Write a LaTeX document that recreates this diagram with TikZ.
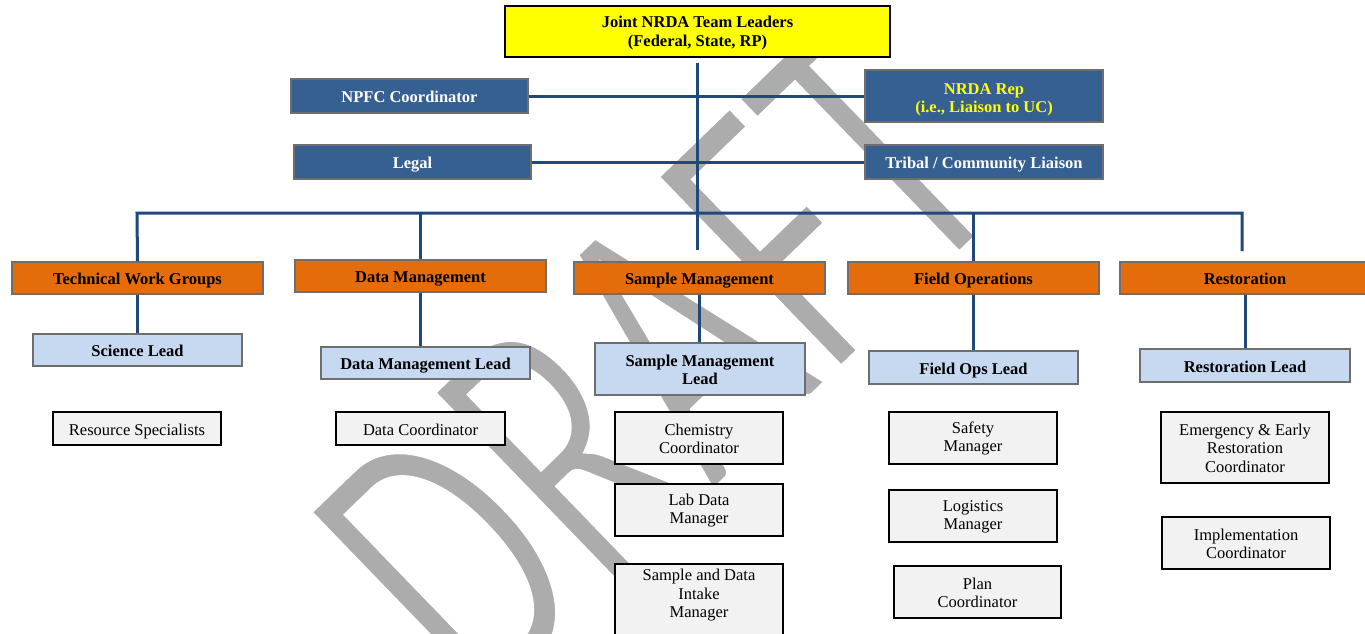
\documentclass[tikz,border=0pt]{standalone}
\usepackage{fontspec}
\setmainfont{Liberation Serif}
\newfontfamily\wmfont{Carlito}
\usepackage{graphicx}
\definecolor{topyellow}{RGB}{255,255,0}
\definecolor{dkblue}{RGB}{54,96,146}
\definecolor{orng}{RGB}{228,108,10}
\definecolor{ltblue}{RGB}{198,217,241}
\definecolor{ltgrey}{RGB}{242,242,242}
\definecolor{linecol}{RGB}{31,73,125}
\definecolor{bordgrey}{RGB}{110,110,110}
\definecolor{wm}{RGB}{172,172,172}
\newcommand\uppad[1]{\rule{0pt}{#1pt}}
\begin{document}
\begin{tikzpicture}[x=1pt,y=-1pt,
  base/.style={rectangle, align=center, inner sep=0pt, font=\fontsize{16.5}{18.5}\selectfont},
  oneline/.style={text height=13pt, text depth=0pt},
  topbox/.style={base, fill=topyellow, draw=black, line width=1.6pt, font=\fontsize{16.5}{18.5}\selectfont\bfseries},
  staffbox/.style={base, fill=dkblue, draw=bordgrey, line width=1.3pt, text=white, font=\fontsize{16.5}{18.5}\selectfont\bfseries},
  secbox/.style={base, oneline, fill=orng, draw=bordgrey, line width=1.3pt, font=\fontsize{16.5}{18.5}\selectfont\bfseries},
  leadbox/.style={base, fill=ltblue, draw=bordgrey, line width=1.3pt, font=\fontsize{16.5}{18.5}\selectfont\bfseries},
  rolebox/.style={base, fill=ltgrey, draw=black, line width=1.6pt},
  conn/.style={draw=linecol, line width=3pt}
]
\useasboundingbox (0,0) rectangle (1365,633);
\clip (0,0) rectangle (1365,633);
\fill[white] (0,0) rectangle (1365,633);

% watermark (thin white outline narrows the glyph strokes)
\node[rotate=44, anchor=base west, inner sep=0pt, text=wm,
      font=\wmfont\fontsize{278}{278}\selectfont] (wmark) at (481,717)
  {\special{pdf:literal direct 1 1 1 RG 5 w 2 Tr}\scalebox{1}[1.5]{DRAFT}\special{pdf:literal direct 0 Tr}};

% connector end points
\coordinate (mainTop) at (697,63);
\coordinate (mainBot) at (697,250);
\coordinate (busL) at (137,213);
\coordinate (busR) at (1242,213);
\coordinate (restEnd) at (1242,251);

% top
\node[topbox, minimum width=385pt, minimum height=51pt] (top) at (697.5,31.5) {\uppad{15}Joint NRDA Team Leaders\\(Federal, State, RP)};

% staff
\node[staffbox, oneline, minimum width=237pt, minimum height=34pt] (npfc) at (409.5,96) {NPFC Coordinator};
\node[staffbox, minimum width=238pt, minimum height=52pt, text=topyellow] (nrda) at (984,96) {\uppad{18}NRDA Rep\\(i.e., Liaison to UC)};
\node[staffbox, oneline, minimum width=237pt, minimum height=34pt] (legal) at (412.5,162) {Legal};
\node[staffbox, oneline, minimum width=238pt, minimum height=34pt] (tribal) at (984,162) {Tribal / Community Liaison};

% sections
\node[secbox, minimum width=251pt, minimum height=32pt] (twg) at (137.5,278) {Technical Work Groups};
\node[secbox, minimum width=251pt, minimum height=32pt] (dm) at (420.5,276) {Data Management};
\node[secbox, minimum width=251pt, minimum height=32pt] (sm) at (699.5,278) {Sample Management};
\node[secbox, minimum width=251pt, minimum height=32pt] (fo) at (973.5,278) {Field Operations};
\node[secbox, minimum width=250pt, minimum height=32pt] (rest) at (1245,278) {Restoration};

% leads
\node[leadbox, oneline, minimum width=209pt, minimum height=32pt] (scil) at (137.5,350) {Science Lead};
\node[leadbox, oneline, minimum width=209pt, minimum height=32pt] (dml) at (425.5,363) {Data Management Lead};
\node[leadbox, minimum width=210pt, minimum height=52pt] (sml) at (700,369) {\uppad{13}Sample Management\\Lead};
\node[leadbox, oneline, minimum width=209pt, minimum height=33pt] (fol) at (973.5,367.5) {Field Ops Lead};
\node[leadbox, oneline, minimum width=210pt, minimum height=33pt] (rl) at (1245,365.5) {Restoration Lead};

% roles
\node[rolebox, oneline, minimum width=168pt, minimum height=33pt] (rs) at (137,428.5) {Resource Specialists};
\node[rolebox, oneline, minimum width=169pt, minimum height=33pt] (dc) at (420.5,428.5) {Data Coordinator};
\node[rolebox, minimum width=168pt, minimum height=52pt] (chem) at (699,438) {\uppad{13}Chemistry\\Coordinator};
\node[rolebox, minimum width=168pt, minimum height=52pt] (lab) at (699,510) {\uppad{13}Lab Data\\Manager};
\node[rolebox, minimum width=168pt, minimum height=80pt, anchor=north] (sdi) at (699,563) {\uppad{13}Sample and Data\\Intake\\Manager\\[4pt]};
\node[rolebox, minimum width=168pt, minimum height=52pt] (safety) at (973,438) {\uppad{13}Safety\\Manager};
\node[rolebox, minimum width=168pt, minimum height=52pt] (logi) at (973,516) {\uppad{13}Logistics\\Manager};
\node[rolebox, minimum width=167pt, minimum height=52pt] (plan) at (977.5,592) {\uppad{13}Plan\\Coordinator};
\node[rolebox, minimum width=168pt, minimum height=71pt] (emer) at (1245,447.5) {\uppad{13}Emergency \& Early\\Restoration\\Coordinator};
\node[rolebox, minimum width=168pt, minimum height=52pt] (impl) at (1246,543) {\uppad{13}Implementation\\Coordinator};

\draw[conn] (mainTop) -- (mainBot);
\draw[conn] (npfc.east) -- (nrda.west);
\draw[conn] (legal.east) -- (tribal.west);
\draw[conn] (twg.north) -- (busL) -- (busR) -- (restEnd);
\draw[conn] (dm.north) -- (dm.north |- busL);
\draw[conn] (fo.north) -- (fo.north |- busL);
\draw[conn] (twg.south) -- (twg.south |- scil.north);
\draw[conn] (dm.south) -- (dm.south |- dml.north);
\draw[conn] (sm.south) -- (sm.south |- sml.north);
\draw[conn] (fo.south) -- (fo.south |- fol.north);
\draw[conn] (rest.south) -- (rest.south |- rl.north);
\end{tikzpicture}
\end{document}
